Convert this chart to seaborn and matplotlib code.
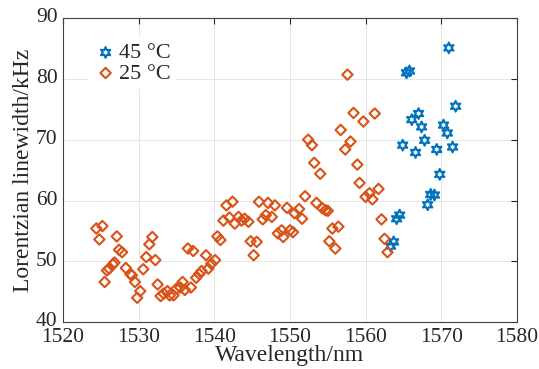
import matplotlib
matplotlib.use("Agg")
import matplotlib.pyplot as plt
import matplotlib.transforms as mtransforms
import seaborn as sns

# 45 °C measurements
wl_45 = [1571.0, 1565.4, 1565.8, 1571.9, 1567.0, 1566.1, 1567.4, 1570.3, 1570.8, 1567.8, 1564.9,
         1571.5, 1566.6, 1569.4, 1569.8, 1568.6, 1569.1, 1568.2, 1564.5, 1564.1, 1563.7, 1563.3]
lw_45 = [85.1, 81.0, 81.3, 75.5, 74.3, 73.3, 72.1, 72.4, 71.1, 69.9, 69.1,
         68.8, 67.9, 68.4, 64.3, 61.0, 60.9, 59.3, 57.6, 57.0, 53.2, 52.5]

# 25 °C measurements
wl_25 = [1524.4, 1525.2, 1524.8, 1525.5, 1525.8, 1526.1, 1526.6, 1526.8, 1527.1, 1527.4,
         1527.8, 1528.3, 1528.9, 1529.1, 1529.5, 1529.8, 1530.2, 1530.6, 1531.0, 1531.4,
         1531.8, 1532.2, 1532.5, 1532.9, 1533.3, 1533.8, 1534.1, 1534.6, 1535.0, 1535.5,
         1535.8, 1536.1, 1536.5, 1536.9, 1537.2, 1537.6, 1538.0, 1538.3, 1538.9, 1539.2,
         1539.6, 1540.1, 1540.4, 1540.8, 1541.2, 1541.6, 1542.0, 1542.4, 1542.7, 1543.2,
         1543.6, 1544.0, 1544.5, 1544.8, 1545.2, 1545.6, 1545.9, 1546.4, 1546.8, 1547.1,
         1547.6, 1548.0, 1548.4, 1548.9, 1549.1, 1549.6, 1550.0, 1550.4, 1550.6, 1551.2,
         1551.6, 1552.0, 1552.4, 1552.9, 1553.2, 1553.5, 1554.0, 1554.3, 1554.7, 1555.0,
         1555.2, 1555.6, 1556.0, 1556.4, 1556.7, 1557.3, 1557.6, 1558.0, 1558.4, 1558.9,
         1559.2, 1559.7, 1560.0, 1560.5, 1560.9, 1561.2, 1561.7, 1562.1, 1562.5, 1562.9]
lw_25 = [55.4, 55.8, 53.6, 46.6, 48.5, 48.8, 49.5, 49.8, 54.1, 51.9,
         51.5, 48.9, 47.9, 47.7, 46.6, 44.0, 45.1, 48.7, 50.7, 52.8,
         54.0, 50.2, 46.2, 44.3, 44.7, 45.1, 44.4, 44.4, 45.5, 45.7,
         46.6, 45.3, 52.1, 45.7, 51.7, 47.3, 47.9, 48.4, 51.0, 48.8,
         49.6, 50.2, 54.1, 53.5, 56.7, 59.2, 57.2, 59.8, 56.2, 57.3,
         56.7, 57.0, 56.5, 53.3, 51.0, 53.2, 59.8, 56.9, 57.6, 59.6,
         57.3, 59.2, 54.6, 55.1, 54.0, 58.8, 55.1, 54.8, 57.9, 58.6,
         57.0, 60.7, 70.0, 69.1, 66.2, 59.6, 64.4, 58.7, 58.4, 58.3,
         53.3, 55.4, 52.1, 55.7, 71.6, 68.4, 80.7, 69.7, 74.4, 65.9,
         62.9, 73.0, 60.6, 61.2, 60.2, 74.3, 61.9, 56.9, 53.7, 51.5]

x_ticks = [1520, 1530, 1540, 1550, 1560, 1570, 1580]
y_ticks = [40, 50, 60, 70, 80, 90]

sns.set_theme(style="whitegrid")
plt.rcParams['font.family'] = ['Liberation Serif', 'DejaVu Serif']

fig = plt.figure(figsize=(5.39, 3.69), dpi=100)
ax = fig.add_axes([0.117, 0.127, 0.842, 0.824])

blue = '#0072BD'
orange = '#D95319'

sns.scatterplot(x=wl_45, y=lw_45, ax=ax, marker=(6, 1, 0), s=60,
                facecolors='none', edgecolor=blue, linewidth=1.5, label='45 °C', zorder=3)
sns.scatterplot(x=wl_25, y=lw_25, ax=ax, marker='D', s=28,
                facecolors='none', edgecolor=orange, linewidth=1.5, label='25 °C', zorder=3)

ax.set_xlim(1520, 1580)
ax.set_ylim(40, 90)
ax.set_xticks(x_ticks)
ax.set_yticks(y_ticks)
ax.set_xlabel('Wavelength/nm', fontsize=17, labelpad=-1)
ax.set_ylabel('Lorentzian linewidth/kHz', fontsize=17, labelpad=1)
ax.tick_params(labelsize=15.5, direction='in', length=4, width=0.8, colors='#262626',
               top=True, right=True)
ax.tick_params(axis='x', pad=4)
ax.tick_params(axis='y', pad=4)
# y tick labels sit slightly above their ticks, as in the original
shift_up = mtransforms.ScaledTranslation(0, 2 / 72, fig.dpi_scale_trans)
for lab in ax.get_yticklabels():
    lab.set_verticalalignment('center_baseline')
    lab.set_transform(lab.get_transform() + shift_up)
ax.grid(True, color='#e6e6e6', linewidth=0.7)
for sp in ax.spines.values():
    sp.set_color('#404040')
    sp.set_linewidth(0.8)

leg = ax.legend(loc='upper left', bbox_to_anchor=(0.03, 0.97), fontsize=16, frameon=True,
                handletextpad=0.0, borderpad=0.2, labelspacing=0.0, handlelength=1.2,
                fancybox=False)
leg.get_frame().set_edgecolor('white')
leg.get_frame().set_facecolor('white')
leg.get_frame().set_alpha(1)

fig.savefig('out.png', dpi=100)
